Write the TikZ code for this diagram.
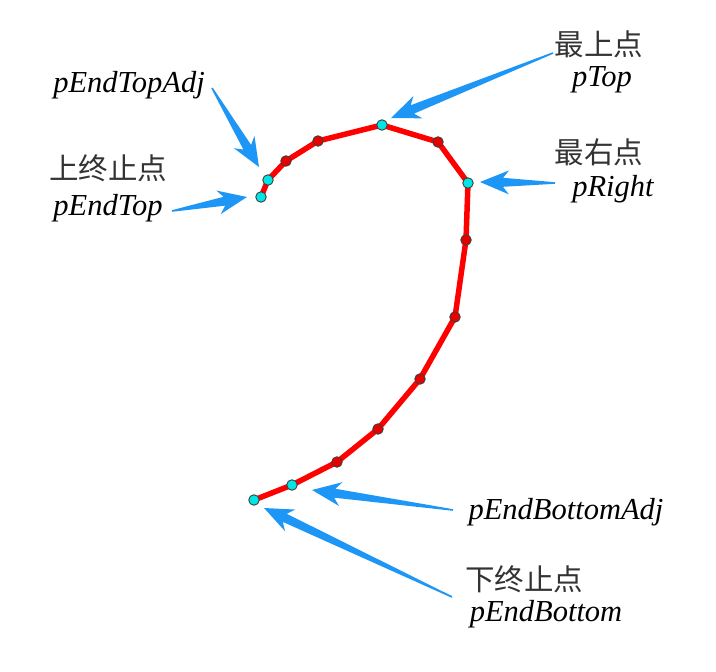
\documentclass[tikz,border=0pt]{standalone}
\usepackage{fontspec}
\setmainfont{Liberation Serif}
\newfontfamily\cjk{Noto Sans CJK SC}
\usetikzlibrary{calc}
\definecolor{arrowblue}{RGB}{30,150,245}
\definecolor{cyanpt}{RGB}{0,230,230}
\definecolor{redpt}{RGB}{230,0,0}
\tikzset{
  curveline/.style={draw=red, line width=5.5pt, line join=round, line cap=round},
  cyandot/.style={circle, fill=cyanpt, draw=black!75, line width=0.9pt, inner sep=0pt, minimum size=10.5pt},
  reddot/.style={circle, fill=redpt, draw=black!75, line width=0.9pt, inner sep=0pt, minimum size=10.5pt},
  lbl/.style={font=\fontsize{30.5}{32}\selectfont\itshape, inner sep=0pt},
  cjklbl/.style={font=\fontsize{29.5}{32}\selectfont\cjk, text=black!80, inner sep=0pt},
}
\newcommand\wedgearrow[2]{%
  \coordinate (wj) at ($(#2)!23pt!(#1)$);
  \coordinate (wk) at ($(#2)!29pt!(#1)$);
  \fill[arrowblue] ($(#1)!0.8pt!90:(#2)$) -- ($(wj)!4.5pt!90:(#2)$) -- ($(wk)!12pt!90:(#2)$) -- (#2)
    -- ($(wk)!12pt!-90:(#2)$) -- ($(wj)!4.5pt!-90:(#2)$) -- ($(#1)!0.8pt!-90:(#2)$) -- cycle;
}
\begin{document}
\begin{tikzpicture}[x=1pt,y=-1pt]
\useasboundingbox (0,0) rectangle (716,672);
% curve points
\coordinate (pEndTop) at (261,197);
\coordinate (pEndTopAdj) at (268,180);
\coordinate (r1) at (286,161);
\coordinate (r2) at (318,141);
\coordinate (pTop) at (382,125);
\coordinate (r3) at (438,142);
\coordinate (pRight) at (468,183);
\coordinate (r4) at (466,240);
\coordinate (r5) at (455,317);
\coordinate (r6) at (420,379);
\coordinate (r7) at (378,429);
\coordinate (r8) at (337,462);
\coordinate (pEndBottomAdj) at (292,485);
\coordinate (pEndBottom) at (254,500);
\draw[curveline] (pEndTop) -- (pEndTopAdj) -- (r1) -- (r2) -- (pTop) -- (r3) -- (pRight) -- (r4) -- (r5) -- (r6) -- (r7) -- (r8) -- (pEndBottomAdj) -- (pEndBottom);
\foreach \p in {r1,r2,r3,r4,r5,r6,r7,r8} \node[reddot] at (\p) {};
\foreach \p in {pEndTop,pEndTopAdj,pTop,pRight,pEndBottomAdj,pEndBottom} \node[cyandot] at (\p) {};
% labels
\node[cjklbl] (tTopC) at (599,44) {最上点};
\node[lbl] (tTop) at (602,80) {pTop};
\node[cjklbl] (tRightC) at (599,152) {最右点};
\node[lbl] (tRight) at (613,189) {pRight};
\node[lbl] (tETA) at (129,85) {pEndTopAdj};
\node[cjklbl] (tETC) at (108,168) {上终止点};
\node[lbl] (tET) at (108,208) {pEndTop};
\node[lbl] (tEBA) at (566,512) {pEndBottomAdj};
\node[cjklbl] (tEBC) at (524,579) {下终止点};
\node[lbl] (tEB) at (546,614) {pEndBottom};
% arrows
\coordinate (aTopT) at (553,53);   \coordinate (aTopH) at (391,118);
\coordinate (aRightT) at (555,183); \coordinate (aRightH) at (480,182);
\coordinate (aETAT) at (212,88);   \coordinate (aETAH) at (259,167);
\coordinate (aETT) at (172,211);   \coordinate (aETH) at (247,197);
\coordinate (aEBAT) at (453,510);  \coordinate (aEBAH) at (312,490);
\coordinate (aEBT) at (452,597);   \coordinate (aEBH) at (264,508);
\wedgearrow{aTopT}{aTopH}
\wedgearrow{aRightT}{aRightH}
\wedgearrow{aETAT}{aETAH}
\wedgearrow{aETT}{aETH}
\wedgearrow{aEBAT}{aEBAH}
\wedgearrow{aEBT}{aEBH}
\end{tikzpicture}
\end{document}
